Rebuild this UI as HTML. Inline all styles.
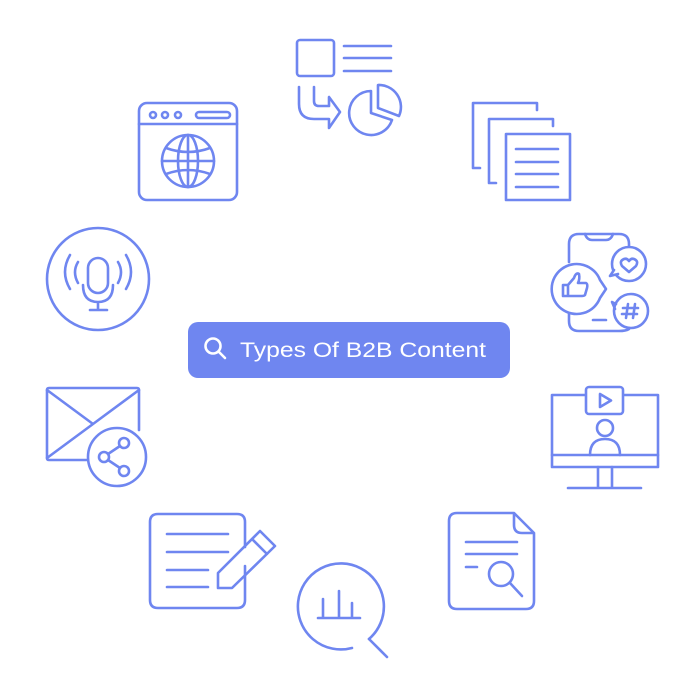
<!DOCTYPE html>
<html><head><meta charset="utf-8"><style>html,body{margin:0;padding:0;background:#fff}svg{display:block}</style></head>
<body>
<svg width="700" height="700" viewBox="0 0 700 700" xmlns="http://www.w3.org/2000/svg">
<g fill="none" stroke="#6f86f0" stroke-width="2.6" stroke-linecap="round" stroke-linejoin="round">
<rect x="297" y="40" width="37" height="36" rx="3"/>
<path d="M344 46H391M344 58H391M344 71H391"/>
<path d="M299 87V104Q299 119 314 119H329V128L340 112L329 97V106H319Q314 106 314 101V87"/>
<path d="M371 91A22 22 0 1 0 392 120L371 113Z"/>
<path d="M378 85A22 22 0 0 1 399 116L378 108Z"/>
<path d="M537 110V103H473V168H480"/>
<path d="M553 126V119H489V183H496"/>
<rect x="506" y="134" width="64" height="66"/>
<path d="M516 149H558M516 162H558M516 174H558M516 187H558"/>
<rect x="139" y="103" width="98" height="97" rx="8"/>
<path d="M139 124H237"/>
<circle cx="153" cy="115" r="3"/><circle cx="165" cy="115" r="3"/><circle cx="178" cy="115" r="3"/>
<rect x="196" y="112" width="34" height="6" rx="3"/>
<circle cx="188" cy="161" r="26"/>
<ellipse cx="188" cy="161" rx="10" ry="26"/>
<path d="M188 135V187M162 161H214M166 148Q188 156 210 148M166 174Q188 166 210 174"/>
<circle cx="98" cy="279" r="51"/>
<rect x="88" y="258" width="20" height="35" rx="10"/>
<path d="M83 285Q83 302 98 302Q113 302 113 285M98 302V310M90 310H107"/>
<path d="M78 262Q72 272 78 283M118 262Q124 272 118 283M70 255Q60 272 70 289M126 255Q136 272 126 289"/>
<path d="M88 460H49Q47 460 47 458V390Q47 388 49 388H137Q139 388 139 390V430"/>
<path d="M47 390L93 424L139 390M47 458L93 424"/>
<circle cx="117" cy="457" r="29"/>
<circle cx="124" cy="443" r="5"/><circle cx="104" cy="457" r="5"/><circle cx="124" cy="471" r="5"/>
<path d="M108 454L120 446M108 460L120 468"/>
<path d="M569 262V244Q569 234 579 234H619Q629 234 629 244V247M629 329Q626 331 619 331H579Q569 331 569 321V314"/>
<path d="M585 234Q587 240 592 240H606Q611 240 613 234M593 320H606"/>
<path d="M600 298A25 25 0 1 1 600 280L606 289Z"/>
<path d="M563 296V285H568V296ZM568 285L574 278Q576 272 579 274Q580 279 578 283H586Q588 284 587 288L585 295Q584 296 582 296H568"/>
<circle cx="629" cy="264" r="17" fill="#fff"/>
<path d="M614 270L610 276L618 274" fill="#fff"/>
<path d="M629 272L622 266Q619 261 624 259Q627 258 629 261Q631 258 634 259Q639 261 636 266Z"/>
<circle cx="631" cy="311" r="17" fill="#fff"/>
<path d="M616 304L612 302L615 309"/>
<path d="M628 304L626 318M635 304L633 318M623 308H638M622 314H637"/>
<rect x="552" y="395" width="106" height="72"/>
<path d="M552 455H658M598 467V488M612 467V488M568 488H641"/>
<rect x="586" y="387" width="37" height="27" rx="3" fill="#fff"/>
<path d="M600 394V407L611 400.5Z"/>
<circle cx="605" cy="428" r="8"/>
<path d="M590 455Q590 439 605 439Q620 439 620 455"/>
<path d="M514 513H457Q449 513 449 521V601Q449 609 457 609H526Q534 609 534 601V533ZM514 513V525Q514 533 522 533H534"/>
<path d="M466 542H517M466 554H517M466 567H477"/>
<circle cx="501" cy="574" r="12"/>
<path d="M510 583L522 596"/>
<path d="M245 566V600Q245 608 237 608H158Q150 608 150 600V522Q150 514 158 514H237Q245 514 245 522V547"/>
<path d="M167 534H228M167 552H228M167 570H208M167 587H208"/>
<path d="M218 573L260 531L275 546L232 588H218Z M252 539L267 554"/>
<path d="M352 648A43 43 0 1 1 369 639"/>
<path d="M369 639L387 657"/>
<path d="M318 618H360M323 618V599M339 618V591M352 618V603"/>
</g>
<rect x="188" y="322" width="322" height="56" rx="10" fill="#6f86f0"/>
<g fill="none" stroke="#fff" stroke-width="2.6" stroke-linecap="round"><circle cx="213" cy="346" r="7.5"/><path d="M219 352L225 358"/></g>
<text x="240" y="357" fill="#fff" font-family="Liberation Sans, sans-serif" font-size="21" textLength="246" lengthAdjust="spacingAndGlyphs">Types Of B2B Content</text>
</svg>
</body></html>
